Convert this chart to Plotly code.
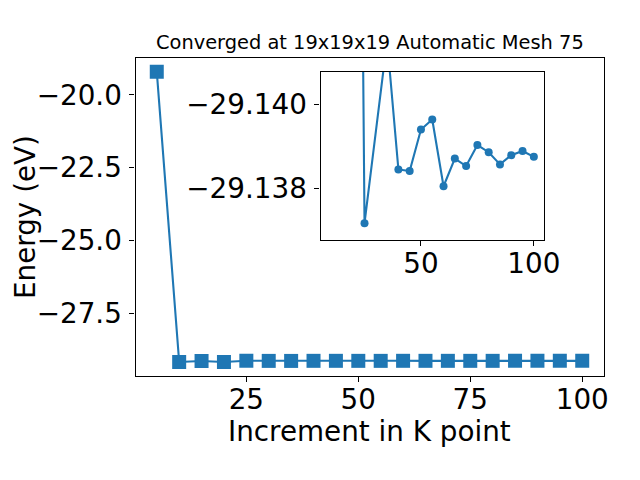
import plotly.graph_objects as go

# ---- data ----
k_points = [5, 10, 15, 20, 25, 30, 35, 40, 45, 50, 55, 60, 65, 70, 75, 80, 85, 90, 95, 100]
energy = [-19.2, -29.18, -29.145, -29.18, -29.13717, -29.1405, -29.14152, -29.13845,
          -29.13841, -29.13940, -29.13964, -29.13805, -29.13871, -29.13853, -29.13903,
          -29.13886, -29.13857, -29.13879, -29.13889, -29.13875]

inset_k = [10, 15, 20, 25, 35, 40, 45, 50, 55, 60, 65, 70, 75, 80, 85, 90, 95, 100]
inset_energy = [-29.18, -29.145, -29.168, -29.13717, -29.14152, -29.13845,
                -29.13841, -29.13940, -29.13964, -29.13805, -29.13871, -29.13853, -29.13903,
                -29.13886, -29.13857, -29.13879, -29.13889, -29.13875]

main_xticks = [25, 50, 75, 100]
main_yticks = [-20.0, -22.5, -25.0, -27.5]
inset_xticks = [50, 100]
inset_yticks = [-29.140, -29.138]

title_text = "Converged at 19x19x19 Automatic Mesh 75"
x_label = "Increment in K point"
y_label = "Energy (eV)"

BLUE = "#1f77b4"
FONT = "DejaVu Sans"
OFF = 8              # page body margin of the html page
W, H = 640 - 2 * OFF, 480 - 2 * OFF


def fmt(v, d):
    s = f"{abs(v):.{d}f}"
    return ("\u2212" + s) if v < 0 else s


def px(x):   # screen x -> paper fraction
    return (x - OFF) / W


def py(y):   # screen y -> paper fraction (from bottom)
    return (H - (y - OFF)) / H


fig = go.Figure()
fig.add_trace(go.Scatter(x=k_points, y=energy, mode="lines+markers",
                         line=dict(color=BLUE, width=2.1),
                         marker=dict(symbol="square", size=14, color=BLUE),
                         xaxis="x", yaxis="y", showlegend=False))
fig.add_trace(go.Scatter(x=inset_k, y=inset_energy, mode="lines+markers",
                         line=dict(color=BLUE, width=2.1),
                         marker=dict(symbol="circle", size=8, color=BLUE),
                         xaxis="x2", yaxis="y2", showlegend=False))

# main axes box in screen px
mx0, mx1, my0, my1 = 135.5, 603.5, 58, 376
# inset box in screen px
ix0, ix1, iy0, iy1 = 320.5, 544, 72, 240

axis_common = dict(showgrid=False, zeroline=False, showline=True, linecolor="black",
                   linewidth=1.1, mirror=True, ticks="outside", ticklen=5, tickwidth=1.1,
                   tickcolor="black", tickfont=dict(family=FONT, size=27.8, color="black"),
                   automargin=False)

fig.update_layout(
    template="none",
    width=W, height=H, margin=dict(l=0, r=0, t=0, b=0, pad=0),
    paper_bgcolor="white", plot_bgcolor="white",
    font=dict(family=FONT, color="black"),
    xaxis=dict(domain=[px(mx0), px(mx1)], range=[0.25, 104.75],
               tickvals=main_xticks, ticktext=[str(v) for v in main_xticks],
               anchor="y", ticklabelstandoff=-6, **axis_common),
    yaxis=dict(domain=[py(my1), py(my0)], range=[-29.66, -18.73],
               tickvals=main_yticks, ticktext=[fmt(v, 1) for v in main_yticks],
               anchor="x", ticklabelstandoff=2, **axis_common),
    xaxis2=dict(domain=[px(ix0), px(ix1)], range=[5.5, 104.5],
                tickvals=inset_xticks, ticktext=[str(v) for v in inset_xticks],
                anchor="y2", ticklabelstandoff=-6, **axis_common),
    yaxis2=dict(domain=[py(iy1), py(iy0)], range=[-29.13677, -29.14077],
                tickvals=inset_yticks, ticktext=[fmt(v, 3) for v in inset_yticks],
                anchor="x2", ticklabelstandoff=2, **axis_common),
    annotations=[
        dict(text=title_text, x=px((mx0 + mx1) / 2), y=py(42), xref="paper", yref="paper",
             showarrow=False, xanchor="center", yanchor="middle",
             font=dict(family=FONT, size=19.4, color="black")),
        dict(text=x_label, x=px((mx0 + mx1) / 2), y=py(431), xref="paper", yref="paper",
             showarrow=False, xanchor="center", yanchor="middle",
             font=dict(family=FONT, size=27.8, color="black")),
        dict(text=y_label, x=px(25), y=py(217), xref="paper", yref="paper",
             showarrow=False, xanchor="center", yanchor="middle", textangle=-90,
             borderpad=0, font=dict(family=FONT, size=27.8, color="black")),
    ],
)

fig.write_html("out.html")
